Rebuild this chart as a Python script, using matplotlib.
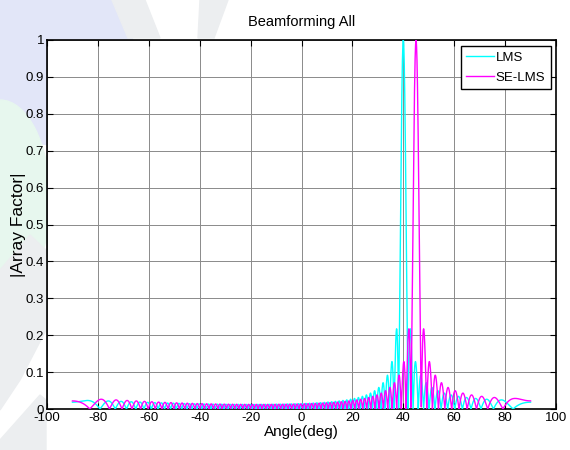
import numpy as np
import matplotlib
matplotlib.use("Agg")
import matplotlib.pyplot as plt
from matplotlib.patches import Ellipse, Polygon

# ---- data ----
series_names = ["LMS", "SE-LMS"]
steer_angles_deg = [40.0, 45.0]          # main-beam directions
num_elements = 80                        # array size estimated from the lobe spacing
angle_limits = [-90.0, 90.0]
series_colors = ["#00ffff", "#ff00ff"]
x_ticks = list(range(-100, 101, 20))
y_ticks = [0, 0.1, 0.2, 0.3, 0.4, 0.5, 0.6, 0.7, 0.8, 0.9, 1]
y_tick_labels = ["0", "0.1", "0.2", "0.3", "0.4", "0.5", "0.6", "0.7", "0.8", "0.9", "1"]

theta = np.linspace(angle_limits[0], angle_limits[1], 7201)


def array_factor(theta_deg, steer_deg, n):
    psi = np.pi * (np.sin(np.radians(theta_deg)) - np.sin(np.radians(steer_deg)))
    k = np.arange(n)
    af = np.abs(np.exp(1j * np.outer(psi, k)).sum(axis=1)) / n
    return af


W, H = 570, 450
fig = plt.figure(figsize=(W / 100, H / 100), dpi=100)


def fx(x):
    return x / W


def fy(y):
    return 1 - y / H


# faint background watermark (figure level, behind axes)
bg = [
    Ellipse((fx(6), fy(15)), fx(36), 60 / H, color="#e6fbfb"),
    Ellipse((fx(55), fy(60)), fx(160), 170 / H, color="#e2e6f8"),
    Ellipse((fx(0), fy(200)), fx(100), 200 / H, color="#e7f7ee"),
]
for p in bg:
    p.set_transform(fig.transFigure)
    p.set_zorder(-10)
    fig.patches.append(p)
gray_polys = [
    [(112, 0), (145, 0), (160, 38), (128, 38)],
    [(200, 0), (228, 0), (214, 38), (198, 38)],
    [(0, 270), (30, 235), (46, 250), (46, 330), (20, 380), (0, 410)],
    [(0, 440), (40, 395), (46, 400), (46, 450), (0, 450)],
]
for pts in gray_polys:
    p = Polygon([(fx(a), fy(b)) for a, b in pts], closed=True,
                color="#eceef0", transform=fig.transFigure, zorder=-9)
    fig.patches.append(p)

ax_left, ax_right, ax_top, ax_bottom = 47, 556, 40, 409
ax = fig.add_axes([ax_left / W, 1 - ax_bottom / H,
                   (ax_right - ax_left) / W, (ax_bottom - ax_top) / H])
ax.set_facecolor("white")

for name, ang, col in zip(series_names, steer_angles_deg, series_colors):
    ax.plot(theta, array_factor(theta, ang, num_elements), color=col,
            lw=1.0, label=name, zorder=3)

font = ["Liberation Sans", "DejaVu Sans"]
ax.set_xlim(-100, 100)
ax.set_ylim(0, 1)
ax.set_xticks(x_ticks)
ax.set_xticklabels([str(t) for t in x_ticks], family=font, fontsize=9.5)
ax.set_yticks(y_ticks)
ax.set_yticklabels(y_tick_labels, family=font, fontsize=9.5)
ax.tick_params(direction="in", length=4, width=0.8, top=True, right=True,
               pad=2, colors="black")
ax.grid(True, color="#8a8a8a", lw=0.7, linestyle="-", zorder=0)
ax.set_axisbelow(True)
for s in ax.spines.values():
    s.set_linewidth(1.2)
    s.set_color("black")

ax.set_title("Beamforming All", family=font, fontsize=10.5, pad=10)
ax.set_xlabel("Angle(deg)", family=font, fontsize=11, labelpad=1)
ax.set_ylabel("|Array Factor|", family=font, fontsize=12.5)
ax.yaxis.set_label_coords((26 - ax_left) / (ax_right - ax_left), 0.5)

leg = ax.legend(loc="upper right", bbox_to_anchor=(0.995, 0.99), borderaxespad=0.2,
                fancybox=False, framealpha=1, edgecolor="black",
                prop={"family": font, "size": 9.5}, handlelength=2.1,
                handletextpad=0.15, borderpad=0.4, labelspacing=0.6)
leg.get_frame().set_linewidth(1.0)

fig.savefig("out.png", dpi=100, facecolor="white")
